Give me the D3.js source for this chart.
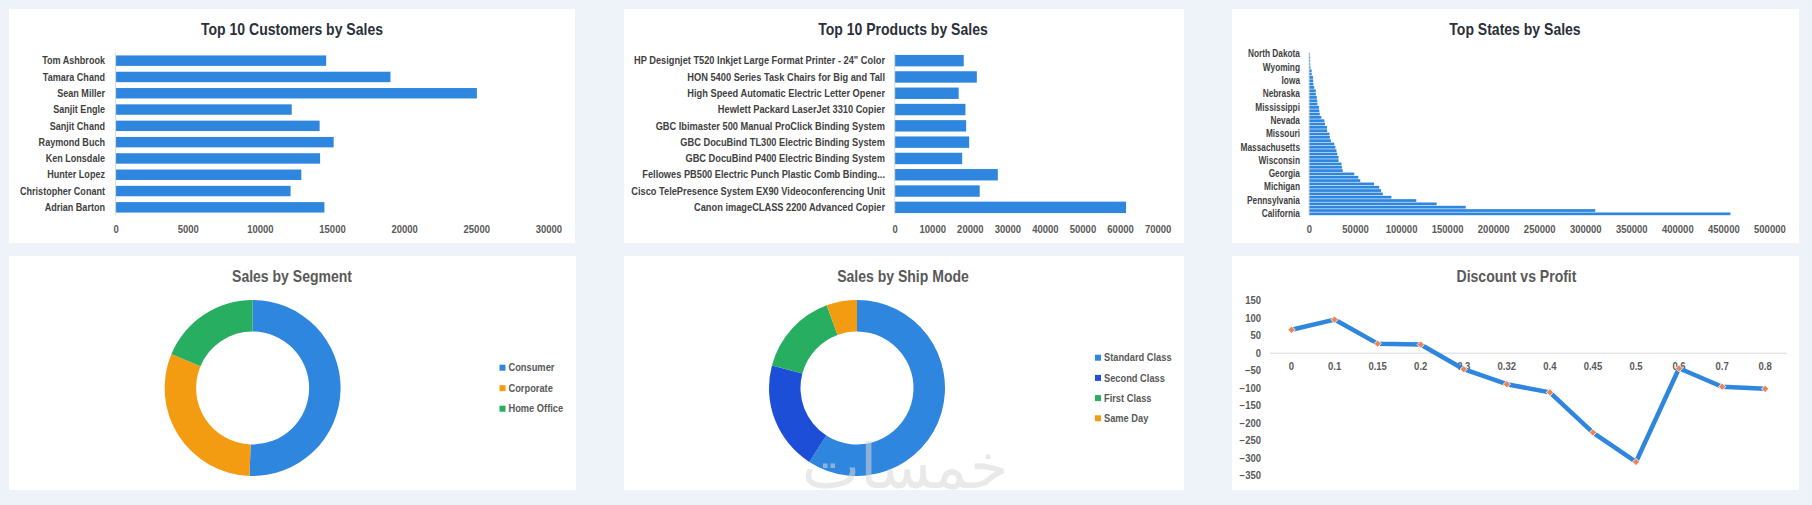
<!DOCTYPE html>
<html>
<head>
<meta charset="utf-8">
<script src="https://cdn.jsdelivr.net/npm/d3@7"></script>
<style>
html,body{margin:0;padding:0;background:#EEF3FA;}
svg{display:block;}
text{font-family:"Liberation Sans Narrow","Arial Narrow","Liberation Sans",sans-serif;font-weight:bold;}
</style>
</head>
<body>
<svg id="c" width="1812" height="505"></svg>
<script>
// ---------- DATA ----------
const customerNames = ["Tom Ashbrook","Tamara Chand","Sean Miller","Sanjit Engle","Sanjit Chand","Raymond Buch","Ken Lonsdale","Hunter Lopez","Christopher Conant","Adrian Barton"];
const customerSales = [14596,19052,25043,12209,14142,15117,14175,12873,12129,14474];
const customerTicks = [0,5000,10000,15000,20000,25000,30000];

const productNames = ["HP Designjet T520 Inkjet Large Format Printer - 24\" Color","HON 5400 Series Task Chairs for Big and Tall","High Speed Automatic Electric Letter Opener","Hewlett Packard LaserJet 3310 Copier","GBC Ibimaster 500 Manual ProClick Binding System","GBC DocuBind TL300 Electric Binding System","GBC DocuBind P400 Electric Binding System","Fellowes PB500 Electric Punch Plastic Comb Binding...","Cisco TelePresence System EX90 Videoconferencing Unit","Canon imageCLASS 2200 Advanced Copier"];
const productSales = [18375,21871,17030,18840,19025,19823,17965,27453,22638,61600];
const productTicks = [0,10000,20000,30000,40000,50000,60000,70000];

// top to bottom (smallest first), California last
const stateNames = ["North Dakota","West Virginia","Maine","South Dakota","Wyoming","District of Columbia","Kansas","Idaho","Iowa","New Mexico","Montana","New Hampshire","Nebraska","South Carolina","Vermont","Louisiana","Mississippi","Utah","Arkansas","Connecticut","Nevada","Oregon","Alabama","Oklahoma","Missouri","Rhode Island","Maryland","Delaware","Massachusetts","Minnesota","Tennessee","Colorado","Wisconsin","Arizona","New Jersey","Kentucky","Georgia","Indiana","North Carolina","Virginia","Michigan","Ohio","Illinois","Florida","Pennsylvania","Washington","Texas","New York","California"];
const stateSales = [920,1210,1271,1316,1603,2865,2914,4382,4580,4784,5589,7293,7465,8482,8929,9217,10771,11220,11678,13384,16729,17431,19511,19683,22205,22628,23706,27451,28634,29863,30662,32108,32115,35282,35764,36592,49096,53555,55603,70637,76270,78258,80166,89474,116512,138641,170188,310876,457688];
const stateLabeled = ["North Dakota","Wyoming","Iowa","Nebraska","Mississippi","Nevada","Missouri","Massachusetts","Wisconsin","Georgia","Michigan","Pennsylvania","California"];
const stateTicks = [0,50000,100000,150000,200000,250000,300000,350000,400000,450000,500000];

const segmentNames = ["Consumer","Corporate","Home Office"];
const segmentSales = [1161401,706146,429653];

const shipNames = ["Standard Class","Second Class","First Class","Same Day"];
const shipSales = [1358216,459194,351428,128363];

const discountLevels = ["0","0.1","0.15","0.2","0.3","0.32","0.4","0.45","0.5","0.6","0.7","0.8"];
const avgProfit = [66.9,96.06,27.29,24.70,-45.68,-88.56,-111.93,-226.65,-310.70,-43.08,-95.87,-101.80];
const profitTicks = [150,100,50,0,-50,-100,-150,-200,-250,-300,-350];

// ---------- STYLE ----------
const BLUE="#2E86DE", DBLUE="#1D4ED8", GREEN="#27AE60", ORANGE="#F39C12", MARK="#EE8356";
const TITLE_DARK="#2B303A", TITLE_GRAY="#595959", LABEL="#3F3F3F", TICK="#595959", GRID="#D9D9D9";
const FONT='"Liberation Sans Narrow","Arial Narrow","Liberation Sans",sans-serif';

// horizontal condensing around each text's anchor
function squeeze(sel, s){
  sel.each(function(){
    const t=d3.select(this); const x=+t.attr("x")||0, y=+t.attr("y")||0;
    t.attr("transform",`translate(${x},${y}) scale(${s},1) translate(${-x},${-y})`);
  });
}

const svg = d3.select("#c");
svg.append("rect").attr("width",1812).attr("height",505).attr("fill","#EEF3FA");

const panels = [[9,9,575,243],[624,9,1184,243],[1232,9,1799,243],[9,256,576,490],[624,256,1184,490],[1232,256,1799,490]];
svg.selectAll("rect.panel").data(panels).join("rect").attr("class","panel")
  .attr("x",d=>d[0]).attr("y",d=>d[1]).attr("width",d=>d[2]-d[0]).attr("height",d=>d[3]-d[1]).attr("fill","#fff");

function title(x,y,t,col){
  svg.append("text").attr("x",x).attr("y",y).attr("text-anchor","middle").attr("dominant-baseline","central")
    .attr("font-size",16.5).attr("fill",col).text(t).call(squeeze,0.85);
}

function barChart(opt){
  const g = svg.append("g");
  const x = d3.scaleLinear().domain([0,opt.max]).range([opt.x0,opt.x1]);
  const y = d3.scaleBand().domain(opt.names).range([opt.y0,opt.y1]).paddingInner(opt.pad).paddingOuter(opt.pad/2);
  g.selectAll("rect").data(opt.names).join("rect")
    .attr("x",x(0)).attr("y",d=>y(d)).attr("height",y.bandwidth())
    .attr("width",(d,i)=>x(opt.vals[i])-x(0)).attr("fill",BLUE);
  g.append("line").attr("x1",x(0)).attr("x2",x(0)).attr("y1",opt.y0).attr("y2",opt.y1).attr("stroke",GRID).attr("stroke-width",1);
  const lab = opt.labeled || opt.names;
  g.selectAll("text.cat").data(opt.names.filter(n=>lab.includes(n))).join("text").attr("class","cat")
    .attr("x",opt.labelX).attr("y",d=>y(d)+y.bandwidth()/2).attr("text-anchor","end").attr("dominant-baseline","central")
    .attr("font-size",opt.fs).attr("fill",LABEL).text(d=>d).call(squeeze,opt.sq);
  const ax = d3.axisBottom(x).tickValues(opt.ticks).tickFormat(d3.format("d")).tickSize(0).tickPadding(0);
  const ag = g.append("g").attr("transform",`translate(0,${opt.tickY})`).call(ax);
  ag.select(".domain").remove();
  ag.selectAll("text").attr("font-size",10).attr("fill",TICK).attr("y",0).attr("dy","0.35em")
    .style("font-family",FONT).style("font-weight","bold").call(squeeze,0.95);
}

// Row 1
title(292,29,"Top 10 Customers by Sales",TITLE_DARK);
barChart({names:customerNames,vals:customerSales,max:30000,x0:115.6,x1:548.4,y0:52.5,y1:215.5,pad:0.36,labelX:105,ticks:customerTicks,tickY:229,fs:10.3,sq:0.88});

title(903,29,"Top 10 Products by Sales",TITLE_DARK);
barChart({names:productNames,vals:productSales,max:70000,x0:894.7,x1:1157.6,y0:52.5,y1:215.5,pad:0.3,labelX:885,ticks:productTicks,tickY:229,fs:10.3,sq:0.9});

title(1515,29,"Top States by Sales",TITLE_DARK);
barChart({names:stateNames,vals:stateSales,max:500000,x0:1309,x1:1769.4,y0:52.5,y1:215.5,pad:0.18,labelX:1300,ticks:stateTicks,tickY:229,labeled:stateLabeled,fs:10,sq:0.83});

// Donuts
function donut(cx,cy,names,vals,colors,legX,legY,legStep){
  const g = svg.append("g").attr("transform",`translate(${cx},${cy})`);
  const pie = d3.pie().sort(null).value(d=>d)(vals);
  const arc = d3.arc().innerRadius(56.5).outerRadius(88);
  g.selectAll("path").data(pie).join("path").attr("d",arc).attr("fill",(d,i)=>colors[i]);
  const lg = svg.append("g");
  names.forEach((n,i)=>{
    lg.append("rect").attr("x",legX).attr("y",legY+i*legStep-3).attr("width",6).attr("height",6).attr("fill",colors[i]);
    lg.append("text").attr("x",legX+9).attr("y",legY+i*legStep).attr("dominant-baseline","central")
      .attr("font-size",10).attr("fill",TICK).text(n).call(squeeze,0.93);
  });
}
title(292,276,"Sales by Segment",TITLE_GRAY);
donut(252.6,388,segmentNames,segmentSales,[BLUE,ORANGE,GREEN],499.5,367.7,20.5);

title(903,276,"Sales by Ship Mode",TITLE_GRAY);
donut(857,388,shipNames,shipSales,[BLUE,DBLUE,GREEN,ORANGE],1095,357.7,20.2);

// Line chart
title(1516.5,276,"Discount vs Profit",TITLE_GRAY);
(function(){
  const g = svg.append("g");
  const x = d3.scaleBand().domain(discountLevels).range([1270,1786.7]);
  const y = d3.scaleLinear().domain([-350,150]).range([475.7,300.7]);
  g.append("line").attr("x1",1270).attr("x2",1786.7).attr("y1",y(0)).attr("y2",y(0)).attr("stroke",GRID).attr("stroke-width",1);
  const ya = d3.axisLeft(y).tickValues(profitTicks).tickFormat(d3.format("d")).tickSize(0).tickPadding(0);
  const yg = g.append("g").attr("transform","translate(1261,0)").call(ya);
  yg.select(".domain").remove();
  yg.selectAll("text").attr("font-size",10).attr("fill",TICK).attr("x",0)
    .style("font-family",FONT).style("font-weight","bold").call(squeeze,0.95);
  g.selectAll("text.cat").data(discountLevels).join("text").attr("class","cat")
    .attr("x",d=>x(d)+x.bandwidth()/2).attr("y",366.7).attr("text-anchor","middle").attr("dominant-baseline","central")
    .attr("font-size",10).attr("fill",TICK).text(d=>d).call(squeeze,0.95);
  const line = d3.line().x((d,i)=>x(discountLevels[i])+x.bandwidth()/2).y(d=>y(d));
  g.append("path").attr("d",line(avgProfit)).attr("fill","none").attr("stroke",BLUE).attr("stroke-width",4.5).attr("stroke-linejoin","round");
  g.selectAll("path.mk").data(avgProfit).join("path").attr("class","mk")
    .attr("d",d3.symbol().type(d3.symbolSquare).size(26))
    .attr("transform",(d,i)=>`translate(${x(discountLevels[i])+x.bandwidth()/2},${y(d)}) rotate(45)`)
    .attr("fill",MARK).attr("stroke","#fff").attr("stroke-width",0.8);
})();

// watermark
svg.append("clipPath").attr("id","wm").append("rect").attr("x",624).attr("y",256).attr("width",560).attr("height",234);
svg.append("text").attr("clip-path","url(#wm)").attr("x",905).attr("y",488).attr("text-anchor","middle")
  .style("font-family","'DejaVu Sans',sans-serif").style("font-weight","normal")
  .attr("font-size",62).attr("fill","#D8D8D8").attr("opacity",0.55).text("خمسات");
</script>
</body>
</html>
